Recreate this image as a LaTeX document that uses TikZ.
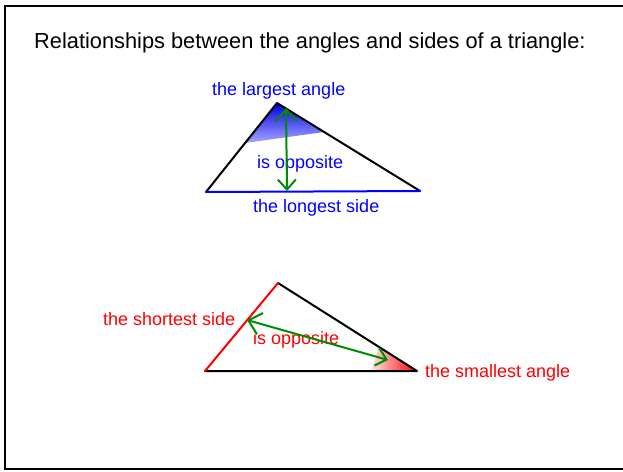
\documentclass[tikz,border=0pt]{standalone}
\usepackage{fontspec}
\setmainfont{Liberation Sans}
\usetikzlibrary{arrows.meta}
\definecolor{grn}{RGB}{0,140,0}
\definecolor{bl}{RGB}{0,0,255}
\definecolor{rd}{RGB}{255,0,0}
\begin{document}
\begin{tikzpicture}[x=1pt,y=-1pt,
  lbl/.style={anchor=base west, inner sep=0pt, font=\fontsize{18}{20}\selectfont},
  edge/.style={line width=2pt, line cap=round, line join=round},
  opp/.style={grn, line width=2pt, line cap=round,
    {Straight Barb[length=12pt,width=22pt,line width=2pt]}-{Straight Barb[length=10pt,width=18pt,line width=2pt]}}]
\useasboundingbox (0,0) rectangle (623,471);
\clip (0,0) rectangle (623,471);
\draw[line width=2pt] (5,6) rectangle (640,469);
\node[lbl, font=\fontsize{21.8}{24}\selectfont] (title) at (34,48) {Relationships between the angles and sides of a triangle:};

% top triangle
\coordinate (A) at (277,103);
\coordinate (B) at (206,192);
\coordinate (C) at (420,191);
\coordinate (AB) at (245,143);
\coordinate (AC) at (324,132);
\shade[top color=bl!90!black, bottom color=bl!35!white] (A) -- (AB) -- (AC) -- cycle;
\draw[edge] (B) -- (A) -- (C);
\draw[edge, bl] (B) -- (C);
\node[lbl, text=bl] (la) at (212,95) {the largest angle};
\node[lbl, text=bl] (o1) at (257,168) {is opposite};
\node[lbl, text=bl] (ls) at (253,212) {the longest side};
\coordinate (t1) at (286,108);
\coordinate (t2) at (287,191);
\draw[opp] (t1) -- (t2);

% bottom triangle
\coordinate (D) at (278,283);
\coordinate (E) at (205,371);
\coordinate (F) at (417,371);
\coordinate (DF) at (379,347);
\coordinate (EF) at (371,371);
\shade[left color=rd!10!white, right color=rd] (F) -- (DF) -- (EF) -- cycle;
\draw[edge] (D) -- (F) -- (E);
\draw[edge, rd] (E) -- (D);
\node[lbl, text=rd] (ss) at (103,325) {the shortest side};
\node[lbl, text=rd] (o2) at (253,344) {is opposite};
\node[lbl, text=rd] (sa) at (425,377) {the smallest angle};
\coordinate (s1) at (247,320);
\coordinate (s2) at (388,360);
\draw[opp] (s1) -- (s2);
\end{tikzpicture}
\end{document}
